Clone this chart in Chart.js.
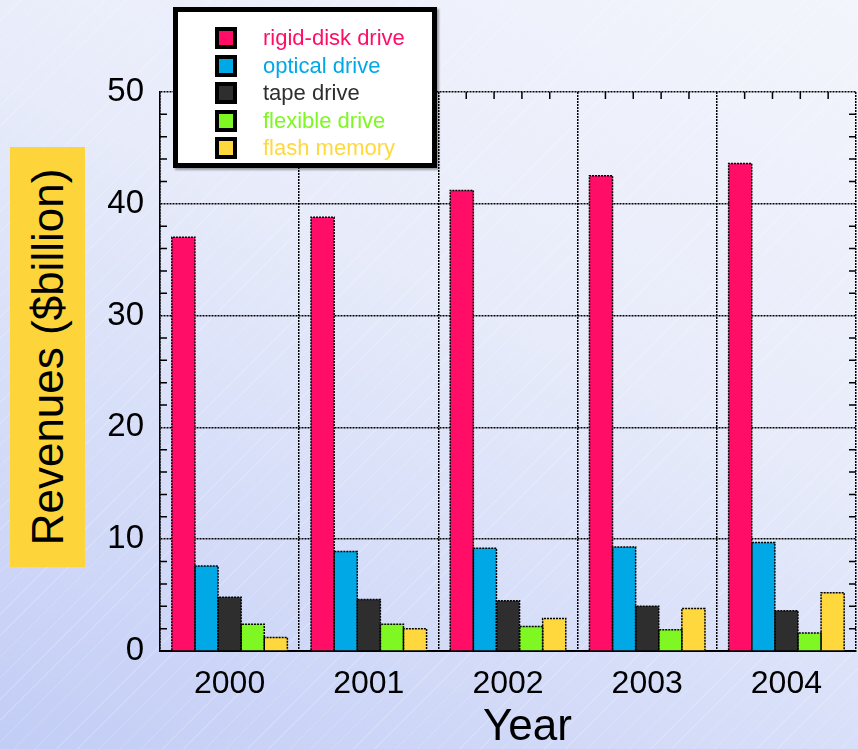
<!DOCTYPE html>
<html>
<head>
<meta charset="utf-8">
<script src="https://cdn.jsdelivr.net/npm/chart.js@4/dist/chart.umd.min.js"></script>
<style>
  html, body { margin: 0; padding: 0; }
  body {
    width: 858px; height: 749px; overflow: hidden;
    font-family: "Liberation Sans", Arial, sans-serif;
    background:
      repeating-linear-gradient(135deg, rgba(255,255,255,0) 0 14px, rgba(255,255,255,0.18) 14px 15px),
      linear-gradient(205deg, #f3f5fc 0%, #e8ecfa 40%, #c2cdf6 100%);
  }
  #wrap { position: relative; width: 858px; height: 749px; }
  #yTitle {
    position: absolute; left: 10px; top: 147px; width: 75px; height: 420px;
    background: #fdd43a;
  }
  #yTitle span {
    position: absolute; left: 50%; top: 50%;
    transform: translate(-50%, -50%) rotate(-90deg);
    white-space: nowrap; font-size: 44px; color: #000;
  }
  #xTitle {
    position: absolute; left: 483px; top: 700px; font-size: 44px; color: #000;
  }
  #legend {
    position: absolute; left: 173px; top: 7px; width: 254px; height: 151px;
    background: #fff; border: 5px solid #000;
    box-shadow: 2px 2px 2px rgba(0,0,0,0.35);
  }
  .item { position: absolute; left: 0; height: 24px; font-size: 22px; line-height: 24px; }
  .item i {
    position: absolute; left: 37px; top: 1px; width: 14px; height: 14px;
    border: 4px solid #000;
  }
  .item b { position: absolute; left: 85px; top: 0; font-weight: normal; white-space: nowrap; }
</style>
</head>
<body>
<div id="wrap">
  <canvas id="chart" width="858" height="749"></canvas>
  <div id="yTitle"><span>Revenues ($billion)</span></div>
  <div id="xTitle">Year</div>
  <div id="legend"></div>
</div>
<script>
const years = ["2000", "2001", "2002", "2003", "2004"];
const seriesNames = ["rigid-disk drive", "optical drive", "tape drive", "flexible drive", "flash memory"];
const seriesColors = ["#ff0d66", "#00a8e6", "#2e2e2e", "#7ef722", "#ffd83e"];

const rigidDisk = [37.0, 38.8, 41.2, 42.5, 43.6];
const optical = [7.6, 8.9, 9.2, 9.3, 9.7];
const tape = [4.8, 4.6, 4.5, 4.0, 3.6];
const flexible = [2.4, 2.4, 2.2, 1.9, 1.6];
const flash = [1.2, 2.0, 2.9, 3.8, 5.2];
const seriesValues = [rigidDisk, optical, tape, flexible, flash];

const yTicks = [0, 10, 20, 30, 40, 50];
const yMinor = [2, 4, 6, 8];

// legend in html
const legendEl = document.getElementById("legend");
seriesNames.forEach((name, i) => {
  const div = document.createElement("div");
  div.className = "item";
  div.style.top = (14 + i * 27.5) + "px";
  div.innerHTML = `<i style="background:${seriesColors[i]}"></i><b style="color:${seriesColors[i]}">${name}</b>`;
  legendEl.appendChild(div);
});

// minor ticks on left, right and top, dotted outline on bars
const extras = {
  id: "extras",
  afterDatasetsDraw(chart) {
    const ctx = chart.ctx;
    const area = chart.chartArea;
    const y = chart.scales.y;
    ctx.save();
    ctx.strokeStyle = "#000";
    ctx.lineWidth = 1.5;
    ctx.setLineDash([2, 1]);
    chart.data.datasets.forEach((ds, di) => {
      chart.getDatasetMeta(di).data.forEach((bar) => {
        const l = bar.x - bar.width / 2, r = bar.x + bar.width / 2;
        ctx.beginPath();
        ctx.moveTo(l, bar.base);
        ctx.lineTo(l, bar.y);
        ctx.lineTo(r, bar.y);
        ctx.lineTo(r, bar.base);
        ctx.stroke();
      });
    });
    ctx.setLineDash([]);
    ctx.lineWidth = 1.5;
    for (let dec = 0; dec < 50; dec += 10) {
      yMinor.forEach((m) => {
        const py = y.getPixelForValue(dec + m);
        ctx.beginPath();
        ctx.moveTo(area.left, py); ctx.lineTo(area.left + 7, py);
        ctx.moveTo(area.right, py); ctx.lineTo(area.right - 7, py);
        ctx.stroke();
      });
    }
    const catW = (area.right - area.left) / years.length;
    for (let c = 0; c < years.length; c++) {
      for (let k = 1; k < 5; k++) {
        const px = area.left + c * catW + k * catW / 5;
        ctx.beginPath();
        ctx.moveTo(px, area.top); ctx.lineTo(px, area.top + 7);
        ctx.stroke();
      }
    }
    ctx.restore();
  }
};

new Chart(document.getElementById("chart"), {
  type: "bar",
  data: {
    labels: years,
    datasets: seriesNames.map((name, i) => ({
      label: name,
      data: seriesValues[i],
      backgroundColor: seriesColors[i],
      borderWidth: 0,
      barPercentage: 1,
      categoryPercentage: 0.83,
    })),
  },
  options: {
    responsive: false,
    devicePixelRatio: 1,
    animation: false,
    layout: { padding: { left: 0, top: 92, right: 2, bottom: 0 } },
    plugins: { legend: { display: false }, tooltip: { enabled: false } },
    scales: {
      x: {
        offset: true,
        grid: { offset: true, color: "#000", lineWidth: 1.5, drawTicks: false },
        border: { display: true, color: "#000", width: 2, dash: [2, 1] },
        ticks: { color: "#000", font: { family: "Liberation Sans", size: 32 }, padding: 14 },
        afterFit: (scale) => { scale.height = 98; },
      },
      y: {
        min: 0,
        max: 50,
        afterBuildTicks: (scale) => { scale.ticks = yTicks.map((v) => ({ value: v })); },
        grid: { color: "#000", lineWidth: 1.5, drawTicks: false },
        border: { display: true, color: "#000", width: 1.5, dash: [2, 1] },
        ticks: { color: "#000", font: { family: "Liberation Sans", size: 33 }, padding: 16 },
        afterFit: (scale) => { scale.width = 160; },
      },
    },
  },
  plugins: [extras],
});
</script>
</body>
</html>
